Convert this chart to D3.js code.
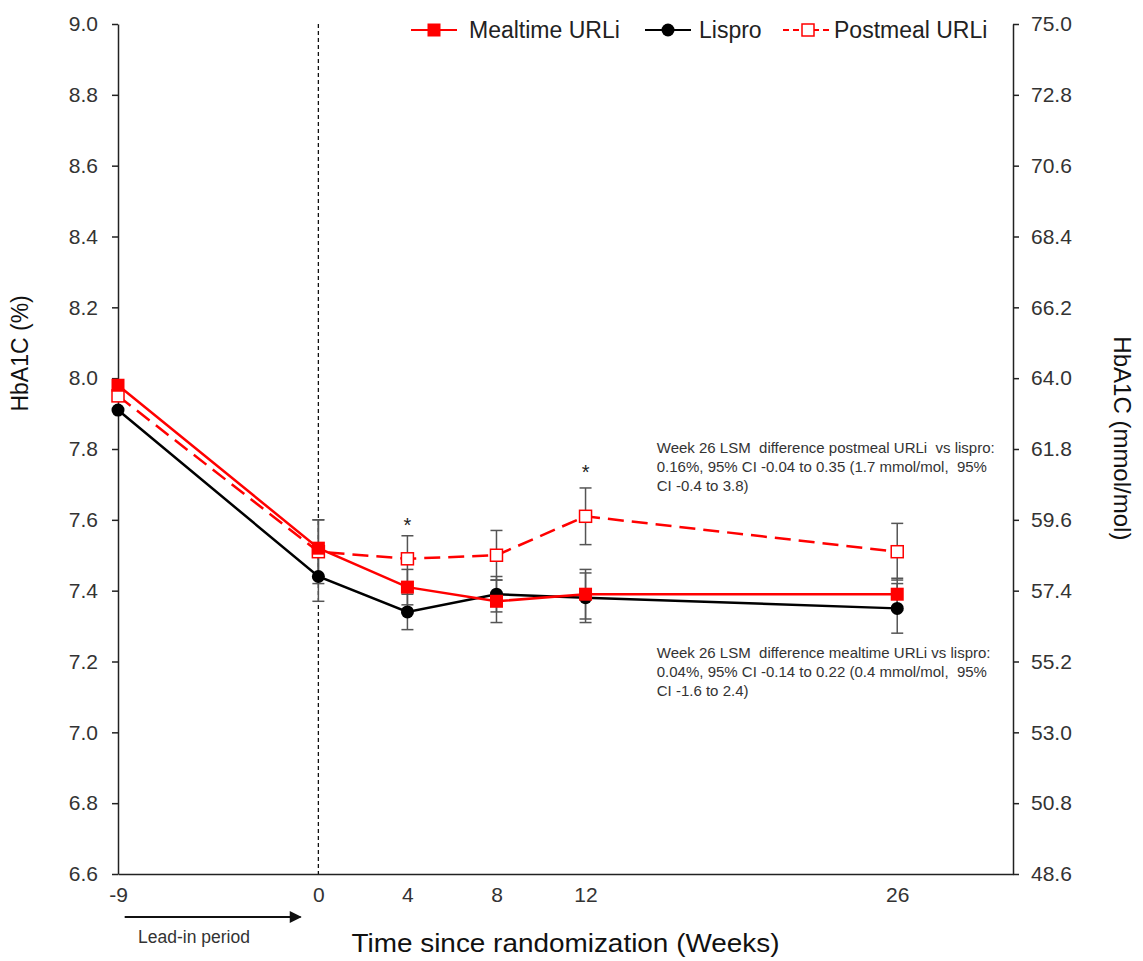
<!DOCTYPE html>
<html>
  <head>
    <meta charset="utf-8">
    <script src="https://d3js.org/d3.v7.min.js"></script>
    <title>HbA1C over time</title>
    <style>
      body { margin: 0px; background: #fff; }
      svg { display: block; overflow: visible; }
      text { font-family: "Liberation Sans", Arial, sans-serif; fill: #222; }
      .tick text { fill: #333; }
      .tick line, .domain { stroke: #222; stroke-width: 1.5; }
      .axis-label { font-size: 23px; fill: #111; }
      .legend-label { font-size: 23px; fill: #222; }
      .note { font-size: 15px; fill: #333; white-space: pre; }
    </style>
  </head>
  <body>
    <div id="viz1"></div>
    <script>
      // data
      const weeks = [-9, 0, 4, 8, 12, 26];
      const weekTicks = [-9, 0, 4, 8, 12, 26];
      const mealtime = [7.98, 7.52, 7.41, 7.37, 7.39, 7.39];
      const lispro = [7.91, 7.44, 7.34, 7.39, 7.38, 7.35];
      const postmeal = [7.95, 7.51, 7.49, 7.50, 7.61, 7.51];
      // half-width of error bars (none at the lead-in point)
      const mealtimeErr = [null, 0.08, 0.05, 0.06, 0.07, 0.045];
      const lisproErr = [null, 0.07, 0.05, 0.05, 0.07, 0.07];
      const postmealErr = [null, 0.09, 0.065, 0.07, 0.08, 0.08];
      const starWeeks = [4, 12];
      const starValues = [7.60, 7.75];
      const pctTicks = [6.6, 6.8, 7.0, 7.2, 7.4, 7.6, 7.8, 8.0, 8.2, 8.4, 8.6, 8.8, 9.0];
      const mmolTicks = [48.6, 50.8, 53.0, 55.2, 57.4, 59.6, 61.8, 64.0, 66.2, 68.4, 70.6, 72.8, 75.0];
      const notePostmeal = [
        'Week 26 LSM  difference postmeal URLi  vs lispro:',
        '0.16%, 95% CI -0.04 to 0.35 (1.7 mmol/mol,  95%',
        'CI -0.4 to 3.8)'
      ];
      const noteMealtime = [
        'Week 26 LSM  difference mealtime URLi vs lispro:',
        '0.04%, 95% CI -0.14 to 0.22 (0.4 mmol/mol,  95%',
        'CI -1.6 to 2.4)'
      ];

      const width = 1143, height = 961;
      const margin = { left: 118, right: 130, top: 24, bottom: 87 };
      const innerWidth = width - margin.left - margin.right;
      const innerHeight = height - margin.top - margin.bottom;

      const svg = d3.select('#viz1').append('svg')
        .attr('width', width)
        .attr('height', height);

      const g = svg.append('g')
        .attr('transform', `translate(${margin.left},${margin.top})`);

      const xScale = d3.scaleLinear().domain([-9, 31.2]).range([0, innerWidth]);
      const yScale = d3.scaleLinear().domain([6.6, 9.0]).range([innerHeight, 0]);
      const y2Scale = d3.scaleLinear().domain([48.6, 75.0]).range([innerHeight, 0]);

      // plain hyphen for negatives, like the original
      const hyphenFmt = f => d => d3.format(f)(d).replace('\u2212', '-');

      // axes
      g.append('g')
        .call(d3.axisLeft(yScale).tickValues(pctTicks).tickFormat(hyphenFmt('.1f'))
          .tickSize(6).tickPadding(14).tickSizeOuter(0))
        .attr('font-size', 21).attr('font-family', null);
      g.append('g')
        .attr('transform', `translate(${innerWidth},0)`)
        .call(d3.axisRight(y2Scale).tickValues(mmolTicks).tickFormat(hyphenFmt('.1f'))
          .tickSize(6).tickPadding(12).tickSizeOuter(0))
        .attr('font-size', 21).attr('font-family', null);
      const xAxisG = g.append('g')
        .attr('transform', `translate(0,${innerHeight})`)
        .call(d3.axisBottom(xScale).tickValues(weekTicks).tickFormat(hyphenFmt('d'))
          .tickSize(0).tickPadding(12).tickSizeOuter(0))
        .attr('font-size', 21).attr('font-family', null);
      xAxisG.selectAll('.tick text').attr('dy', '0.75em');

      // dashed randomization line
      g.append('line')
        .attr('x1', xScale(0)).attr('x2', xScale(0))
        .attr('y1', 0).attr('y2', innerHeight)
        .attr('stroke', '#111').attr('stroke-width', 1.3)
        .attr('stroke-dasharray', '4,3');

      // axis titles
      g.append('text')
        .attr('class', 'axis-label')
        .attr('transform', `translate(${-90},${yScale(8.07)}) rotate(-90)`)
        .attr('text-anchor', 'middle')
        .text('HbA1C (%)');

      g.append('text')
        .attr('class', 'axis-label')
        .attr('transform', `translate(${innerWidth + 101},${yScale(7.83)}) rotate(90)`)
        .attr('text-anchor', 'middle')
        .style('font-size', '24px')
        .text('HbA1C (mmol/mol)');

      g.append('text')
        .attr('class', 'axis-label')
        .attr('x', xScale(11.1))
        .attr('y', innerHeight + 78)
        .attr('text-anchor', 'middle')
        .attr('textLength', 428)
        .attr('lengthAdjust', 'spacingAndGlyphs')
        .style('font-size', '26px')
        .text('Time since randomization (Weeks)');

      // lead-in arrow
      svg.append('defs').append('marker')
        .attr('id', 'arrow')
        .attr('viewBox', '0 0 10 10')
        .attr('refX', 9).attr('refY', 5)
        .attr('markerWidth', 6.5).attr('markerHeight', 6)
        .attr('orient', 'auto')
        .append('path').attr('d', 'M0,0L10,5L0,10Z').attr('fill', '#111');

      g.append('line')
        .attr('x1', xScale(-8.7)).attr('x2', xScale(-0.8))
        .attr('y1', innerHeight + 43).attr('y2', innerHeight + 43)
        .attr('stroke', '#111').attr('stroke-width', 2)
        .attr('marker-end', 'url(#arrow)');

      g.append('text')
        .attr('class', 'note')
        .attr('x', xScale(-8.1))
        .attr('y', innerHeight + 69)
        .style('font-size', '17.5px')
        .text('Lead-in period');

      // series
      const series = [
        { name: 'Mealtime URLi', values: mealtime, err: mealtimeErr, color: '#ff0000', dash: null, shape: 'square', fill: '#ff0000' },
        { name: 'Lispro', values: lispro, err: lisproErr, color: '#000', dash: null, shape: 'circle', fill: '#000' },
        { name: 'Postmeal URLi', values: postmeal, err: postmealErr, color: '#ff0000', dash: '16,8', shape: 'square', fill: '#fff' }
      ];

      // error bars
      series.forEach(s => {
        const bars = weeks.map((w, i) => ({ w, v: s.values[i], e: s.err[i] })).filter(d => d.e != null);
        const eg = g.append('g').attr('stroke', '#555').attr('stroke-width', 1.5);
        bars.forEach(d => {
          const x = xScale(d.w);
          const top = yScale(d.v + d.e), bot = yScale(d.v - d.e);
          eg.append('line').attr('x1', x).attr('x2', x).attr('y1', top).attr('y2', bot);
          eg.append('line').attr('x1', x - 6).attr('x2', x + 6).attr('y1', top).attr('y2', top);
          eg.append('line').attr('x1', x - 6).attr('x2', x + 6).attr('y1', bot).attr('y2', bot);
        });
      });

      const line = d3.line()
        .x(d => xScale(d.w))
        .y(d => yScale(d.v));

      const drawMarker = (sel, s, x, y) => {
        if (s.shape === 'circle') {
          sel.append('circle').attr('cx', x).attr('cy', y).attr('r', 6.5).attr('fill', s.fill);
        } else {
          const size = s.fill === '#fff' ? 12 : 13;
          sel.append('rect')
            .attr('x', x - size / 2).attr('y', y - size / 2)
            .attr('width', size).attr('height', size)
            .attr('fill', s.fill)
            .attr('stroke', s.color).attr('stroke-width', s.fill === '#fff' ? 1.5 : 0);
        }
      };

      // draw postmeal first, then lispro, then mealtime on top
      [series[2], series[1], series[0]].forEach(s => {
        const pts = weeks.map((w, i) => ({ w, v: s.values[i] }));
        g.append('path')
          .datum(pts)
          .attr('d', line)
          .attr('fill', 'none')
          .attr('stroke', s.color)
          .attr('stroke-width', 2.5)
          .attr('stroke-dasharray', s.dash);
        const mg = g.append('g');
        pts.forEach(d => drawMarker(mg, s, xScale(d.w), yScale(d.v)));
      });

      // significance stars
      g.selectAll('.star').data(starWeeks).enter().append('text')
        .attr('class', 'star')
        .attr('x', d => xScale(d))
        .attr('y', (d, i) => yScale(starValues[i]))
        .attr('text-anchor', 'middle')
        .attr('dy', '0.6em')
        .style('font-size', '20px')
        .text('*');

      // annotations
      const drawNote = (lines, w, v) => {
        const t = g.append('text').attr('class', 'note')
          .attr('x', xScale(w)).attr('y', yScale(v));
        lines.forEach((l, i) => {
          t.append('tspan').attr('x', xScale(w)).attr('dy', i === 0 ? 0 : 19).text(l);
        });
      };
      drawNote(notePostmeal, 15.2, 7.79);
      drawNote(noteMealtime, 15.2, 7.21);

      // legend
      const legendItems = [
        { s: series[0], x: 411, tx: 469 },
        { s: series[1], x: 645, tx: 699 },
        { s: series[2], x: 783, tx: 834 }
      ];
      const legendG = svg.append('g').attr('transform', 'translate(0,30)');
      legendItems.forEach(d => {
        const lw = d.s.dash ? 50 : 46;
        legendG.append('line')
          .attr('x1', d.x).attr('x2', d.x + lw)
          .attr('y1', 0).attr('y2', 0)
          .attr('stroke', d.s.color).attr('stroke-width', 2)
          .attr('stroke-dasharray', d.s.dash ? '6,4' : null);
        drawMarker(legendG, d.s, d.x + lw / 2, 0);
        legendG.append('text')
          .attr('class', 'legend-label')
          .attr('x', d.tx).attr('y', 0)
          .attr('dy', '0.35em')
          .text(d.s.name);
      });
    </script>
  </body>
</html>
